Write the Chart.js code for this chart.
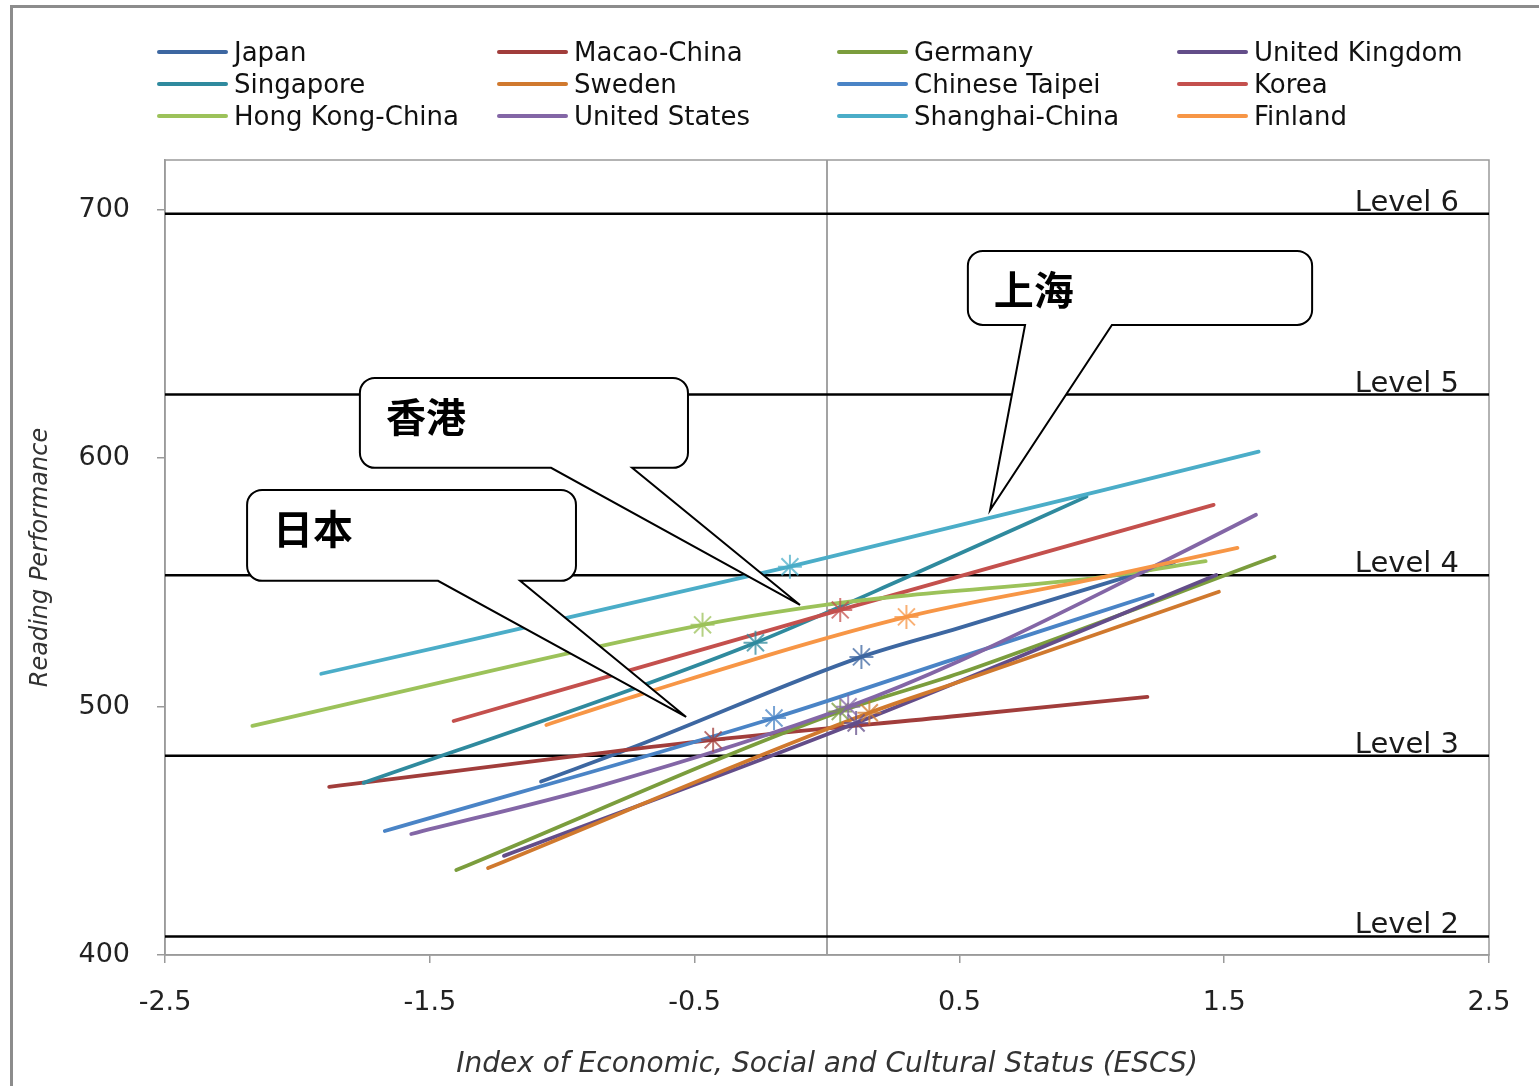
<!DOCTYPE html>
<html>
<head>
<meta charset="utf-8">
<script src="https://cdn.jsdelivr.net/npm/chart.js@4.4.1/dist/chart.umd.min.js"></script>
<style>
html, body { margin: 0; padding: 0; background: #fff; }
#wrap { position: relative; width: 1539px; height: 1086px; overflow: hidden; background: #fff; }
#frame { position: absolute; left: 10px; top: 5px; width: 1600px; height: 1200px;
         border-left: 3px solid #8c8c8c; border-top: 3px solid #8c8c8c; }
#chart { position: absolute; left: 0; top: 0; }
#legend { position: absolute; left: 157px; top: 36px; display: grid;
          grid-template-columns: repeat(4, 340px); grid-auto-rows: 32px;
          font: 26px "DejaVu Sans"; color: #111; }
.item { display: flex; align-items: center; white-space: nowrap; }
.swatch { width: 71px; height: 4px; border-radius: 2px; margin-right: 6px; }
</style>
</head>
<body>
<div id="wrap">
  <div id="frame"></div>
  <canvas id="chart" width="1539" height="1086"></canvas>
  <div id="legend"></div>
</div>
<script>
//data
var countries = ['Japan', 'Macao-China', 'Germany', 'United Kingdom',
                 'Singapore', 'Sweden', 'Chinese Taipei', 'Korea',
                 'Hong Kong-China', 'United States', 'Shanghai-China', 'Finland'];

//ESCS values along each country's gradient line
var lineX = [
    [-1.08, -0.71, 0.13, 0.50, 1.31],              // Japan
    [-1.88, -0.43, 0.50, 1.21],                    // Macao-China
    [-1.40, 0.05, 0.50, 1.69],                     // Germany
    [-1.22, 0.11, 1.47],                           // United Kingdom
    [-1.75, -0.71, -0.27, 0.28, 0.98],             // Singapore
    [-1.28, 0.16, 0.50, 1.48],                     // Sweden
    [-1.67, -0.20, 0.50, 1.23],                    // Chinese Taipei
    [-1.41, 0.05, 1.46],                           // Korea
    [-2.17, -1.76, -0.47, 0.00, 0.28, 1.03, 1.43], // Hong Kong-China
    [-1.57, -0.86, 0.08, 0.50, 1.36, 1.62],        // United States
    [-1.91, -0.14, 1.63],                          // Shanghai-China
    [-1.06, -0.71, 0.30, 1.03, 1.55]               // Finland
];
//reading scores at those ESCS values
var lineY = [
    [469.8, 484.5, 520.0, 531.7, 558.0],
    [467.7, 486.6, 496.3, 503.9],
    [434.2, 498.0, 513.4, 560.3],
    [439.9, 493.4, 553.0],
    [469.3, 508.0, 525.7, 551.0, 584.5],
    [435.0, 497.5, 510.0, 546.2],
    [449.9, 495.4, 519.8, 545.0],
    [494.2, 538.9, 581.2],
    [492.2, 502.3, 532.9, 541.0, 544.5, 552.0, 558.5],
    [448.7, 468.0, 499.9, 518.3, 563.1, 577.2],
    [513.2, 556.3, 602.6],
    [492.6, 504.7, 536.1, 551.8, 563.9]
];
//country means (star markers)
var meanX = [0.13, -0.43, 0.05, 0.11, -0.27, 0.16, -0.20, 0.05, -0.47, 0.08, -0.14, 0.30];
var meanY = [520.0, 486.6, 498.0, 493.4, 525.7, 497.5, 495.4, 538.9, 532.9, 499.9, 556.3, 536.1];

//proficiency level cut-offs
var levelNames = ['Level 2', 'Level 3', 'Level 4', 'Level 5', 'Level 6'];
var levelScores = [407.47, 480.18, 552.89, 625.61, 698.32];

var xTicks = [-2.5, -1.5, -0.5, 0.5, 1.5, 2.5];
var yTicks = [400, 500, 600, 700];

var colors = ['#3D67A1', '#A13D3B', '#7B9D3D', '#634D89', '#2F8A9E', '#D0792E',
              '#4A84C6', '#C4504D', '#9CC25A', '#8366A6', '#4BADC8', '#F79646'];

//callouts, in data units: box [left, top, right, bottom], pointer base x pair, tip
var callouts = [
    {text: '上海', box: [0.532, 683.4, 1.832, 653.6], base: [0.748, 1.076], tip: [0.616, 579.1]},
    {text: '香港', box: [-1.764, 632.3, -0.525, 596.1], base: [-1.042, -0.736], tip: [-0.102, 540.9]},
    {text: '日本', box: [-2.190, 587.2, -0.948, 550.6], base: [-1.469, -1.159], tip: [-0.532, 495.8]}
];

function hexAlpha(hex, a) {
    var r = parseInt(hex.substr(1, 2), 16), g = parseInt(hex.substr(3, 2), 16), b = parseInt(hex.substr(5, 2), 16);
    return 'rgba(' + r + ',' + g + ',' + b + ',' + a + ')';
}

//legend (html so the columns line up like the original)
var legend = document.getElementById('legend');
countries.forEach(function (name, i) {
    var item = document.createElement('div');
    item.className = 'item';
    item.innerHTML = '<span class="swatch" style="background:' + colors[i] + '"></span>' + name;
    legend.appendChild(item);
});

function drawCallout(ctx, L, T, R, B, b1, b2, tx, ty, r) {
    ctx.beginPath();
    ctx.moveTo(L + r, T);
    ctx.lineTo(R - r, T);
    ctx.arcTo(R, T, R, T + r, r);
    ctx.lineTo(R, B - r);
    ctx.arcTo(R, B, R - r, B, r);
    ctx.lineTo(b2, B);
    ctx.lineTo(tx, ty);
    ctx.lineTo(b1, B);
    ctx.lineTo(L + r, B);
    ctx.arcTo(L, B, L, B - r, r);
    ctx.lineTo(L, T + r);
    ctx.arcTo(L, T, L + r, T, r);
    ctx.closePath();
    ctx.fillStyle = '#fff';
    ctx.fill();
    ctx.strokeStyle = '#000';
    ctx.lineWidth = 2;
    ctx.stroke();
}

var overlay = {
    id: 'overlay',
    beforeDatasetsDraw: function (chart) {
        var ctx = chart.ctx, a = chart.chartArea, x = chart.scales.x, y = chart.scales.y;
        ctx.save();
        //ESCS = 0
        var x0 = x.getPixelForValue(0);
        ctx.strokeStyle = '#a3a3a3';
        ctx.lineWidth = 2;
        ctx.beginPath();
        ctx.moveTo(x0, a.top);
        ctx.lineTo(x0, a.bottom);
        ctx.stroke();
        //plot area border
        ctx.strokeStyle = '#9a9a9a';
        ctx.lineWidth = 1.5;
        ctx.strokeRect(a.left, a.top, a.right - a.left, a.bottom - a.top);
        //level lines + names
        ctx.font = '29px "DejaVu Sans"';
        ctx.textAlign = 'right';
        ctx.textBaseline = 'alphabetic';
        ctx.fillStyle = '#1a1a1a';
        levelScores.forEach(function (v, i) {
            var py = y.getPixelForValue(v);
            ctx.strokeStyle = '#000';
            ctx.lineWidth = 2.5;
            ctx.beginPath();
            ctx.moveTo(a.left, py);
            ctx.lineTo(a.right, py);
            ctx.stroke();
            ctx.fillText(levelNames[i], a.right - 30, py - 3);
        });
        ctx.restore();
    },
    afterDatasetsDraw: function (chart) {
        var ctx = chart.ctx, x = chart.scales.x, y = chart.scales.y;
        ctx.save();
        callouts.forEach(function (c) {
            var L = x.getPixelForValue(c.box[0]), T = y.getPixelForValue(c.box[1]);
            var R = x.getPixelForValue(c.box[2]), B = y.getPixelForValue(c.box[3]);
            drawCallout(ctx, L, T, R, B,
                x.getPixelForValue(c.base[0]), x.getPixelForValue(c.base[1]),
                x.getPixelForValue(c.tip[0]), y.getPixelForValue(c.tip[1]), 15);
            ctx.fillStyle = '#000';
            ctx.font = 'bold 40px "Noto Sans CJK SC"';
            ctx.textAlign = 'left';
            ctx.textBaseline = 'middle';
            ctx.fillText(c.text, L + 26, T + 39);
        });
        ctx.restore();
    }
};

Chart.defaults.font.family = '"DejaVu Sans"';
Chart.defaults.color = '#222';

var datasets = countries.map(function (name, i) {
    return {
        label: name,
        data: lineX[i].map(function (v, j) { return {x: v, y: lineY[i][j]}; }),
        borderColor: colors[i],
        backgroundColor: colors[i],
        borderWidth: 3.8,
        borderCapStyle: 'round',
        pointRadius: 0,
        cubicInterpolationMode: 'monotone',
        fill: false,
        order: 12 - i
    };
});
datasets.push({
    label: 'means',
    data: meanX.map(function (v, i) { return {x: v, y: meanY[i]}; }),
    showLine: false,
    pointStyle: 'star',
    pointRadius: 12,
    pointBorderWidth: 2,
    pointBorderColor: colors.map(function (c) { return hexAlpha(c, 0.75); }),
    pointBackgroundColor: 'transparent',
    order: -1
});

var ctx = document.getElementById('chart').getContext('2d');
window.myChart = new Chart(ctx, {
    type: 'line',
    data: {datasets: datasets},
    options: {
        responsive: false,
        animation: false,
        layout: {padding: {left: 0, top: 160, right: 50, bottom: 0}},
        plugins: {legend: {display: false}, tooltip: {enabled: false}},
        scales: {
            x: {
                type: 'linear',
                min: -2.5,
                max: 2.5,
                afterBuildTicks: function (s) { s.ticks = xTicks.map(function (v) { return {value: v}; }); },
                afterFit: function (s) { s.height = 131; },
                grid: {drawOnChartArea: false, color: '#9a9a9a', tickLength: 8, lineWidth: 1.5},
                border: {color: '#9a9a9a', width: 1.5},
                ticks: {font: {size: 27}, padding: 24, maxRotation: 0,
                        callback: function (v) { return v.toFixed(1); }},
                title: {display: true, text: 'Index of Economic, Social and Cultural Status (ESCS)',
                        font: {size: 28, style: 'italic'}, color: '#333', padding: {bottom: 4}}
            },
            y: {
                type: 'linear',
                min: 400,
                max: 720,
                afterBuildTicks: function (s) { s.ticks = yTicks.map(function (v) { return {value: v}; }); },
                afterFit: function (s) { s.width = 165; },
                grid: {drawOnChartArea: false, color: '#9a9a9a', tickLength: 8, lineWidth: 1.5},
                border: {color: '#9a9a9a', width: 1.5},
                ticks: {font: {size: 27}, padding: 27},
                title: {display: true, text: 'Reading Performance',
                        font: {size: 24, style: 'italic'}, color: '#333', padding: {top: 26}}
            }
        }
    },
    plugins: [overlay]
});
</script>
</body>
</html>
